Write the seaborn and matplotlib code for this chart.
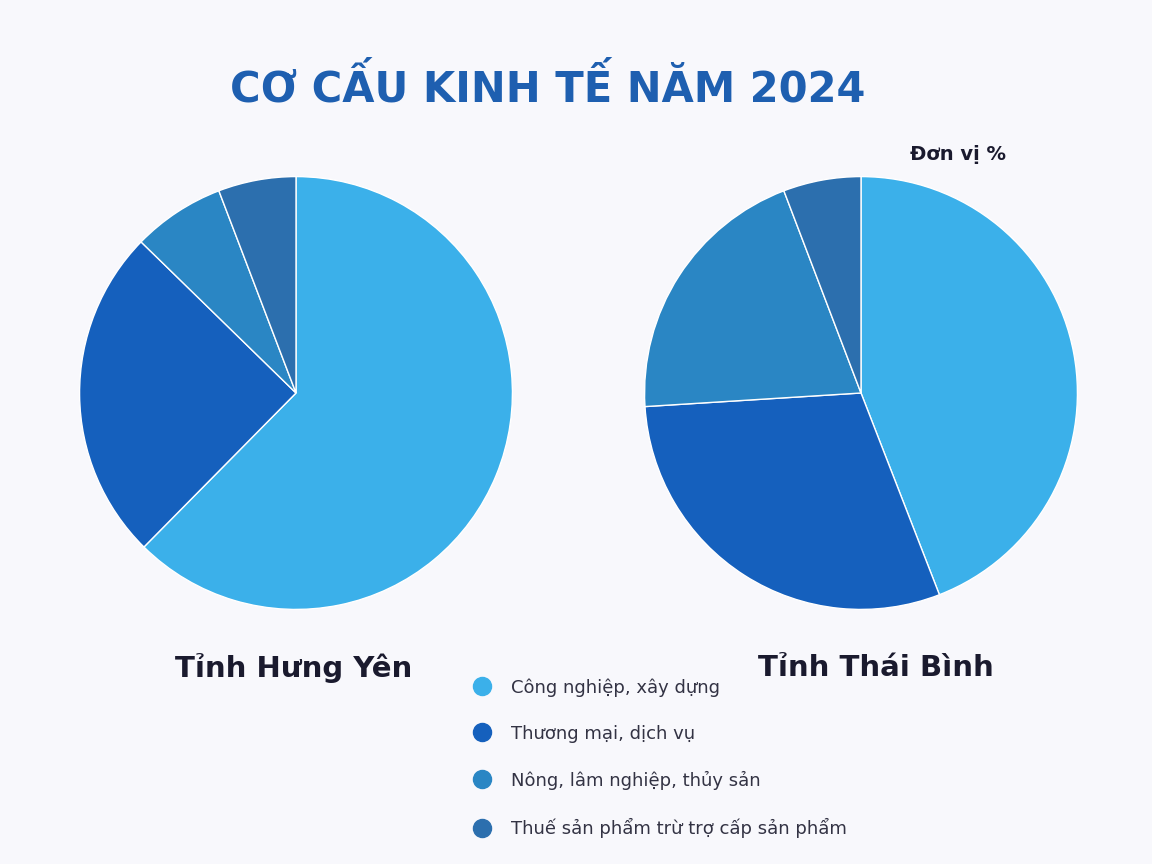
import matplotlib.pyplot as plt
import seaborn as sns
from matplotlib.lines import Line2D

# Dữ liệu cơ cấu kinh tế (%)
sectors = ["Công nghiệp, xây dựng", "Thương mại, dịch vụ",
           "Nông, lâm nghiệp, thủy sản", "Thuế sản phẩm trừ trợ cấp sản phẩm"]
hung_yen = [62.4, 24.9, 6.9, 5.8]
thai_binh = [44.1, 29.9, 20.2, 5.8]
colors = ["#3BB0EA", "#1560BD", "#2A86C4", "#2C6FAE"]

sns.set_theme(style="white")
plt.rcParams["font.family"] = ["DejaVu Sans"]
bg = "#F8F8FC"

fig = plt.figure(figsize=(11.52, 8.64), dpi=100, facecolor=bg)
ax1 = fig.add_axes([296/1152 - 0.19, 1 - 393/864 - 0.253, 0.38, 0.506])
ax2 = fig.add_axes([861/1152 - 0.19, 1 - 393/864 - 0.253, 0.38, 0.506])

for ax, vals in [(ax1, hung_yen), (ax2, thai_binh)]:
    ax.set_facecolor(bg)
    ax.pie(vals, colors=colors, startangle=90, counterclock=False, radius=1.0)
    ax.set_aspect("equal")
    ax.set_xlim(-1.01, 1.01)
    ax.set_ylim(-1.01, 1.01)

fig.text(548/1152, 1 - 88/864, "CƠ CẤU KINH TẾ NĂM 2024", ha="center", va="center",
         fontsize=30, fontweight="bold", color="#1E5FB0")
fig.text(958/1152, 1 - 154/864, "Đơn vị %", ha="center", va="center",
         fontsize=14, fontweight="bold", color="#1a1a2e")
fig.text(294/1152, 1 - 668/864, "Tỉnh Hưng Yên", ha="center", va="center",
         fontsize=21, fontweight="bold", color="#1a1a2e")
fig.text(876/1152, 1 - 668/864, "Tỉnh Thái Bình", ha="center", va="center",
         fontsize=21, fontweight="bold", color="#1a1a2e")

handles = [Line2D([0], [0], marker="o", linestyle="", markersize=13,
                  markerfacecolor=c, markeredgecolor=c) for c in colors]
fig.legend(handles, sectors, loc="upper left", bbox_to_anchor=(448/1152, 1 - 662/864),
           frameon=False, fontsize=13, labelspacing=1.55, handletextpad=0.6,
           labelcolor="#333344")

plt.savefig("out.png", dpi=100, facecolor=bg)
